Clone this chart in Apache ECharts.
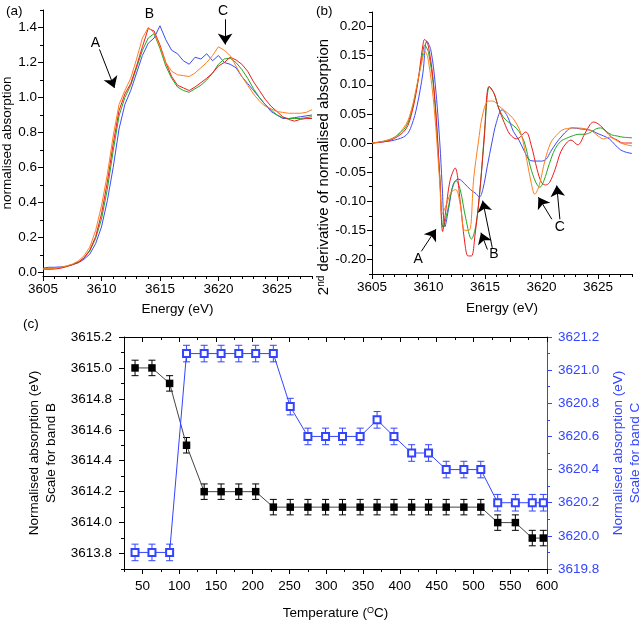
<!DOCTYPE html>
<html><head><meta charset="utf-8">
<script src="https://cdn.jsdelivr.net/npm/echarts@6/dist/echarts.min.js"></script>
<style>html,body{margin:0;padding:0;background:#fff}#c{width:642px;height:621px}</style>
</head><body><div id="c"></div>
<script>
// ---------- Panel (a): normalised absorption ----------
const energyA = [3605,3605.5,3606,3606.5,3607,3607.5,3608,3608.5,3609,3609.5,3610,3610.5,3611,3611.5,3612,3612.5,3613,3613.5,3614,3614.5,3615,3615.5,3616,3616.5,3617,3617.5,3618,3618.5,3619,3619.5,3620,3620.5,3621,3621.5,3622,3622.5,3623,3623.5,3624,3624.5,3625,3625.5,3626,3626.5,3627,3627.5,3628];
const orangeA = [0.020,0.022,0.025,0.030,0.037,0.048,0.065,0.095,0.145,0.240,0.380,0.560,0.780,0.960,1.040,1.110,1.220,1.340,1.400,1.370,1.290,1.200,1.150,1.130,1.125,1.120,1.140,1.170,1.200,1.240,1.290,1.270,1.240,1.180,1.120,1.070,1.020,0.980,0.950,0.935,0.920,0.915,0.910,0.910,0.910,0.915,0.930];
const redA    = [0.020,0.018,0.020,0.024,0.033,0.044,0.058,0.083,0.128,0.205,0.335,0.515,0.735,0.925,1.020,1.080,1.180,1.290,1.395,1.380,1.300,1.200,1.120,1.070,1.055,1.040,1.060,1.085,1.110,1.140,1.180,1.200,1.230,1.215,1.190,1.150,1.090,1.040,0.990,0.950,0.920,0.890,0.875,0.865,0.875,0.880,0.880];
const greenA  = [0.020,0.022,0.025,0.029,0.035,0.045,0.058,0.082,0.122,0.195,0.305,0.475,0.695,0.895,1.000,1.070,1.170,1.270,1.340,1.365,1.280,1.180,1.110,1.060,1.040,1.030,1.050,1.070,1.100,1.140,1.190,1.220,1.225,1.200,1.160,1.110,1.050,1.000,0.960,0.930,0.900,0.885,0.880,0.880,0.880,0.885,0.890];
const blueA   = [0.025,0.030,0.030,0.032,0.036,0.045,0.055,0.075,0.105,0.165,0.260,0.410,0.600,0.820,0.960,1.040,1.140,1.240,1.310,1.340,1.410,1.330,1.270,1.250,1.210,1.190,1.230,1.220,1.250,1.210,1.240,1.200,1.190,1.170,1.120,1.080,1.040,1.000,0.960,0.920,0.900,0.880,0.880,0.885,0.890,0.895,0.900];

// ---------- Panel (b): 2nd derivative ----------
const orangeBE = [3605,3606,3607,3608,3608.5,3609,3609.5,3609.7,3610,3610.5,3611,3611.2,3611.5,3612,3612.4,3612.8,3613.2,3613.6,3614,3614.4,3614.8,3615.3,3615.7,3616.2,3616.7,3617.2,3617.7,3618.2,3618.7,3619.1,3619.4,3619.8,3620.3,3620.8,3621.3,3621.8,3622.3,3623,3624,3624.5,3625,3625.5,3626,3626.5,3627,3627.5,3628];
const orangeBV = [0,0.003,0.010,0.032,0.058,0.102,0.148,0.157,0.140,0.060,-0.070,-0.122,-0.110,-0.085,-0.080,-0.105,-0.150,-0.150,-0.060,0.000,0.050,0.072,0.072,0.064,0.056,0.048,0.036,0.015,-0.030,-0.070,-0.088,-0.072,-0.030,0.000,0.013,0.022,0.025,0.026,0.024,0.020,0.012,0.007,0.010,0.006,0.000,-0.003,-0.005];
const redBE = [3605,3606,3607,3608,3608.5,3609,3609.5,3609.65,3610,3610.5,3611,3611.25,3611.5,3611.9,3612.35,3612.8,3613.2,3613.5,3613.8,3614.1,3614.5,3614.9,3615.35,3615.8,3616.2,3616.7,3617.2,3617.8,3618.6,3619.1,3619.6,3620.0,3620.35,3620.7,3621.2,3621.7,3622.2,3622.6,3623.2,3623.8,3624.3,3624.6,3625.2,3625.7,3626.2,3626.7,3627.2,3628];
const redBV = [0,0.002,0.008,0.024,0.050,0.097,0.168,0.178,0.165,0.090,-0.060,-0.152,-0.120,-0.065,-0.043,-0.100,-0.170,-0.194,-0.194,-0.160,-0.090,0.000,0.097,0.085,0.060,0.035,0.015,0.007,0.019,-0.005,-0.045,-0.068,-0.072,-0.068,-0.045,-0.015,0.000,0.005,-0.003,0.015,0.032,0.036,0.030,0.020,0.010,0.005,0.000,0.000];
const greenBE = [3605,3606,3607,3608,3608.5,3609,3609.5,3609.65,3610,3610.5,3611,3611.3,3611.7,3612.1,3612.45,3612.8,3613.3,3613.8,3614.2,3614.6,3615,3615.4,3615.8,3616.2,3616.6,3617,3617.5,3618,3618.5,3619,3619.5,3619.85,3620.2,3620.7,3621.2,3621.7,3622.2,3622.7,3623.3,3623.8,3624.3,3624.8,3625.2,3625.7,3626.2,3626.7,3627.2,3628];
const greenBV = [0,0.003,0.010,0.028,0.055,0.100,0.155,0.168,0.155,0.085,-0.060,-0.145,-0.115,-0.078,-0.065,-0.080,-0.130,-0.165,-0.140,-0.070,0.030,0.097,0.085,0.060,0.045,0.037,0.030,0.020,0.000,-0.040,-0.068,-0.076,-0.065,-0.035,-0.010,0.003,0.008,0.012,0.015,0.015,0.018,0.024,0.026,0.020,0.014,0.012,0.010,0.009];
const blueBE = [3605,3606,3607,3608,3608.5,3609,3609.5,3609.85,3610.2,3610.6,3611,3611.2,3611.45,3611.8,3612.2,3612.65,3613.2,3613.7,3614.2,3614.5,3614.8,3615.2,3615.6,3616,3616.5,3617,3617.5,3618,3618.5,3619,3619.5,3620,3620.4,3620.8,3621.3,3621.8,3622.3,3622.7,3623.5,3624.3,3625,3625.5,3626,3626.5,3627,3627.5,3628];
const blueBV = [0,0.002,0.005,0.013,0.030,0.065,0.120,0.175,0.160,0.100,0.000,-0.070,-0.144,-0.110,-0.070,-0.062,-0.070,-0.080,-0.087,-0.093,-0.080,-0.040,0.000,0.035,0.057,0.045,0.020,0.005,-0.015,-0.030,-0.031,-0.031,-0.028,-0.015,0.000,0.012,0.022,0.026,0.024,0.022,0.016,0.012,0.007,-0.003,-0.012,-0.016,-0.018];

// ---------- Panel (c): band positions vs temperature ----------
const tempC = [40,63,87,110,134,157,181,204,228,251,275,299,322,346,369,392,416,439,463,487,510,533,557,580,595];
const bandB = [3615.0,3615.0,3614.9,3614.5,3614.2,3614.2,3614.2,3614.2,3614.1,3614.1,3614.1,3614.1,3614.1,3614.1,3614.1,3614.1,3614.1,3614.1,3614.1,3614.1,3614.1,3614.0,3614.0,3613.9,3613.9];
const bandC = [3619.9,3619.9,3619.9,3621.1,3621.1,3621.1,3621.1,3621.1,3621.1,3620.78,3620.6,3620.6,3620.6,3620.6,3620.7,3620.6,3620.5,3620.5,3620.4,3620.4,3620.4,3620.2,3620.2,3620.2,3620.2];
const errB = 0.05;
const errC = 0.05;

// ---------- tick labels ----------
const ticksAX = [3605,3610,3615,3620,3625];
const ticksAY = [0.0,0.2,0.4,0.6,0.8,1.0,1.2,1.4];
const ticksBX = [3605,3610,3615,3620,3625];
const ticksBY = [-0.20,-0.15,-0.10,-0.05,0.00,0.05,0.10,0.15,0.20];
const ticksCX = [50,100,150,200,250,300,350,400,450,500,550,600];
const ticksCYL = [3613.8,3614.0,3614.2,3614.4,3614.6,3614.8,3615.0,3615.2];
const ticksCYR = [3619.8,3620.0,3620.2,3620.4,3620.6,3620.8,3621.0,3621.2];

// ---------- annotations (data coordinates) ----------
const labelsA = [['A',3609.49,1.313],['B',3614.09,1.475],['C',3620.40,1.495]];
const arrowsA = [[3609.83,1.275,3611.11,1.055],[3620.57,1.447,3620.57,1.303]];
const labelsB = [['A',3609.09,-0.200],['B',3615.78,-0.191],['C',3621.62,-0.145]];
const arrowsB = [[3609.37,-0.186,3610.66,-0.148],[3615.21,-0.183,3614.64,-0.154],[3615.64,-0.180,3614.79,-0.099],[3620.91,-0.131,3619.72,-0.093],[3621.62,-0.131,3621.34,-0.073]];

// ---------- build ----------
const FONT = '"Liberation Sans", Arial, sans-serif';
const FS = 13.5;
const COL = {orange:'#ff7f1e', red:'#ee1c1c', green:'#22a822', blue:'#3d4cf5'};
const BLUE_C = '#3344ff';

function minorOf(major, parts, lo, hi) {
  const step = (major[1]-major[0])/parts;
  const out = [];
  for (let v = major[0]; v >= lo - 1e-9; v -= step) out.push(v);
  for (let v = major[0] + step; v <= hi + 1e-9; v += step) out.push(v);
  return out.map(v => Math.round(v*1e6)/1e6)
            .filter(v => !major.some(m => Math.abs(m - v) < 1e-6));
}

const xAxes = [], yAxes = [];
function addAxis(list, o) {
  const color = o.color || '#000';
  list.push({
    type: 'value', gridIndex: o.grid, position: o.position, min: o.min, max: o.max, offset: 0,
    axisLine: {show: true, onZero: false, lineStyle: {color: color, width: 1}},
    axisTick: {show: true, inside: !!o.inside, length: 5, customValues: o.major, lineStyle: {color: color, width: 1}},
    axisLabel: {show: o.labels !== false, customValues: o.major, formatter: v => Number(v).toFixed(o.dec),
      margin: o.margin, color: color, fontSize: FS, fontFamily: FONT},
    splitLine: {show: false},
    name: o.name || '', nameLocation: 'middle', nameGap: o.nameGap, nameRotate: o.nameRotate,
    nameTextStyle: Object.assign({color: color, fontSize: FS, fontFamily: FONT}, o.nameStyle || {})
  });
  const idx = list.length - 1;
  list.push({
    type: 'value', gridIndex: o.grid, position: o.position, min: o.min, max: o.max, offset: 0,
    axisLine: {show: false, onZero: false},
    axisTick: {show: true, inside: !!o.inside, length: 3, customValues: minorOf(o.major, o.parts, o.min, o.max), lineStyle: {color: color, width: 1}},
    axisLabel: {show: false}, splitLine: {show: false}
  });
  return idx;
}

const supRich = {sup: {fontSize: 9, fontFamily: FONT, verticalAlign: 'top', lineHeight: 9, color: '#000'}};
const supRichB = {sup: {fontSize: 10, fontFamily: FONT, verticalAlign: 'top', lineHeight: 10, color: '#000'}};

// panel a
const axA = addAxis(xAxes, {grid:0, position:'bottom', min:3605, max:3628, major:ticksAX, parts:5, dec:0, margin:6,
  name:'Energy (eV)', nameGap:26});
const ayA = addAxis(yAxes, {grid:0, position:'left', min:-0.02, max:1.5, major:ticksAY, parts:2, dec:1, margin:6,
  name:'normalised absorption', nameGap:28, nameRotate:90});
// panel b
const axB = addAxis(xAxes, {grid:1, position:'bottom', min:3605, max:3628, major:ticksBX, parts:5, dec:0, margin:6,
  name:'Energy (eV)', nameGap:27});
const ayB = addAxis(yAxes, {grid:1, position:'left', min:-0.225, max:0.225, major:ticksBY, parts:2, dec:2, margin:6,
  name:'2{sup|nd} derivative of normalised absorption', nameGap:35, nameRotate:90,
  nameStyle:{fontSize: 15, rich: supRichB, padding:[0,48,0,0]}});
// panel c
const axC = addAxis(xAxes, {grid:2, position:'bottom', min:25, max:600, major:ticksCX, parts:2, dec:0, margin:10,
  name:'Temperature ({sup|O}C)', nameGap:37, nameStyle:{rich: supRich}});
addAxis(xAxes, {grid:2, position:'top', min:25, max:600, major:ticksCX, parts:2, dec:0, labels:false, inside:true});
const ayCL = addAxis(yAxes, {grid:2, position:'left', min:3613.7, max:3615.2, major:ticksCYL, parts:2, dec:1, margin:12,
  name:'Normalised absorption (eV)\nScale for band B', nameGap:63, nameRotate:90, nameStyle:{lineHeight:17}});
const ayCR = addAxis(yAxes, {grid:2, position:'right', min:3619.8, max:3621.2, major:ticksCYR, parts:2, dec:1, margin:11,
  color: BLUE_C, name:'Normalised absorption (eV)\nScale for band C', nameGap:62, nameRotate:90, nameStyle:{lineHeight:17}});

function zip(xs, ys) { return xs.map((x, i) => [x, ys[i]]); }

function lineSeries(xi, yi, data, color, smooth) {
  return {type:'line', xAxisIndex: xi, yAxisIndex: yi, data: data, showSymbol: false, symbol: 'none',
    smooth: smooth || false, lineStyle: {color: color, width: 1}, itemStyle: {color: color}, silent: true, animation: false};
}

function annot(labels, arrows) {
  return {
    markLine: {silent: true, animation: false, symbol: ['none', 'arrow'], symbolSize: 11, precision: 4,
      lineStyle: {color: '#000', width: 1, type: 'solid'}, itemStyle: {color: '#000'}, label: {show: false},
      data: arrows.map(a => [{coord: [a[0], a[1]]}, {coord: [a[2], a[3]]}])},
    markPoint: {silent: true, animation: false, symbol: 'rect', symbolSize: 1, itemStyle: {color: 'rgba(0,0,0,0)'},
      label: {show: true, position: 'inside', formatter: '{b}', color: '#000', fontSize: 14, fontFamily: FONT},
      data: labels.map(l => ({name: l[0], coord: [l[1], l[2]]}))}
  };
}

function errRender(color, err) {
  return function (params, api) {
    const x = api.value(0), y = api.value(1);
    const t = api.coord([x, y + err]), b = api.coord([x, y - err]);
    const w = 3.5, st = {stroke: color, lineWidth: 1};
    return {type: 'group', children: [
      {type: 'line', shape: {x1: t[0], y1: t[1], x2: b[0], y2: b[1]}, style: st},
      {type: 'line', shape: {x1: t[0]-w, y1: t[1], x2: t[0]+w, y2: t[1]}, style: st},
      {type: 'line', shape: {x1: b[0]-w, y1: b[1], x2: b[0]+w, y2: b[1]}, style: st}
    ]};
  };
}

const series = [];
// panel a
series.push(lineSeries(axA, ayA, zip(energyA, blueA), COL.blue));
series.push(lineSeries(axA, ayA, zip(energyA, greenA), COL.green));
series.push(lineSeries(axA, ayA, zip(energyA, redA), COL.red));
series.push(Object.assign(lineSeries(axA, ayA, zip(energyA, orangeA), COL.orange), annot(labelsA, arrowsA)));
// panel b
series.push(lineSeries(axB, ayB, zip(blueBE, blueBV), COL.blue, 0.35));
series.push(lineSeries(axB, ayB, zip(greenBE, greenBV), COL.green, 0.35));
series.push(lineSeries(axB, ayB, zip(redBE, redBV), COL.red, 0.35));
series.push(Object.assign(lineSeries(axB, ayB, zip(orangeBE, orangeBV), COL.orange, 0.35), annot(labelsB, arrowsB)));
// panel c
series.push({type:'custom', xAxisIndex: axC, yAxisIndex: ayCL, data: zip(tempC, bandB), renderItem: errRender('#000', errB), animation:false, silent:true, z: 2});
series.push({type:'line', xAxisIndex: axC, yAxisIndex: ayCL, data: zip(tempC, bandB), symbol:'rect', symbolSize: 7.5,
  itemStyle:{color:'#000'}, lineStyle:{color:'#444', width:1}, animation:false, silent:true, z: 3});
series.push({type:'custom', xAxisIndex: axC, yAxisIndex: ayCR, data: zip(tempC, bandC), renderItem: errRender(BLUE_C, errC), animation:false, silent:true, z: 2});
series.push({type:'line', xAxisIndex: axC, yAxisIndex: ayCR, data: zip(tempC, bandC), symbol:'emptyRect', symbolSize: 7,
  itemStyle:{color: BLUE_C, borderWidth: 1}, lineStyle:{color: BLUE_C, width:1}, animation:false, silent:true, z: 3});

const titleStyle = {fontSize: FS, fontWeight: 'normal', fontFamily: FONT, color: '#000'};
const option = {
  animation: false,
  backgroundColor: '#fff',
  title: [
    {text: '(a)', left: 6, top: 4, padding: 0, textStyle: titleStyle},
    {text: '(b)', left: 316, top: 4, padding: 0, textStyle: titleStyle},
    {text: '(c)', left: 23, top: 317, padding: 0, textStyle: titleStyle}
  ],
  grid: [
    {left: 43, top: 10, width: 269, height: 266, containLabel: false, outerBoundsMode: 'none'},
    {left: 372, top: 12, width: 260, height: 262, containLabel: false, outerBoundsMode: 'none'},
    {left: 124, top: 337, width: 423, height: 232, containLabel: false, outerBoundsMode: 'none'}
  ],
  xAxis: xAxes,
  yAxis: yAxes,
  series: series
};

const chart = echarts.init(document.getElementById('c'), null, {renderer: 'canvas'});
chart.setOption(option);
</script>
</body></html>
